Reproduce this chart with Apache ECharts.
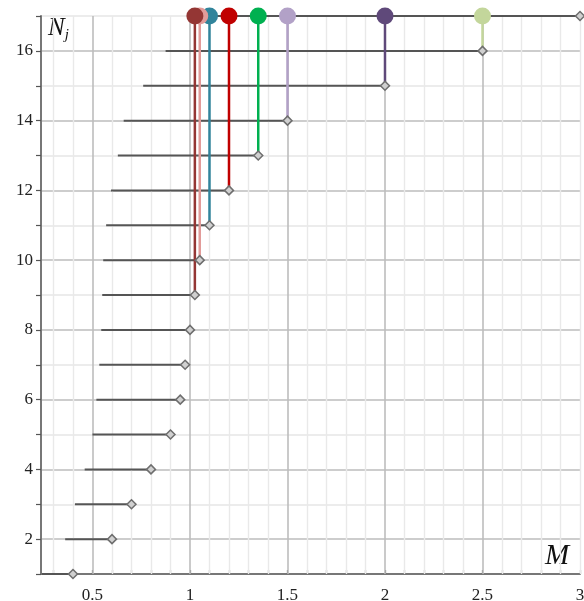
<!DOCTYPE html>
<html>
<head>
<meta charset="utf-8">
<style>
  html, body { margin: 0; padding: 0; background: #fff; }
  #main { width: 584px; height: 601px; }
</style>
<script src="https://cdn.jsdelivr.net/npm/echarts@6/dist/echarts.min.js"></script>
</head>
<body>
<div id="main"></div>
<script>
// levels N_j and the M range covered at each level
var levels = [1, 2, 3, 4, 5, 6, 7, 8, 9, 10, 11, 12, 13, 14, 15, 16, 17];
var startM = [0.24, 0.36, 0.41, 0.46, 0.5, 0.52, 0.535, 0.545, 0.55, 0.555, 0.57, 0.595, 0.63, 0.66, 0.76, 0.875, 1.0];
var endM = [0.4, 0.6, 0.7, 0.8, 0.9, 0.95, 0.975, 1.0, 1.025, 1.05, 1.1, 1.2, 1.35, 1.5, 2.0, 2.5, 3.0];

// coloured stems from the top level down
var stemM = [1.025, 1.05, 1.1, 1.2, 1.35, 1.5, 2.0, 2.5];
var stemBottom = [9, 10, 11, 12, 13, 14, 15, 16];
var stemTop = 17;
var stemColors = ['#943634', '#E29B99', '#31849B', '#C00000', '#00B050', '#B2A1C7', '#5F497A', '#C3D69B'];

// tick labels / grid positions
var xLabels = [0.5, 1, 1.5, 2, 2.5, 3];
var xMinor = [0.3, 0.4, 0.5, 0.6, 0.7, 0.8, 0.9, 1.0, 1.1, 1.2, 1.3, 1.4, 1.5, 1.6, 1.7, 1.8, 1.9, 2.0,
  2.1, 2.2, 2.3, 2.4, 2.5, 2.6, 2.7, 2.8, 2.9, 3.0];

var chartDom = document.getElementById('main');
var myChart = echarts.init(chartDom);
var option;

var serif = '"Liberation Serif", "DejaVu Serif", serif';

var segData = [];
var endData = [];
for (var i = 0; i < levels.length; i++) {
  segData.push([startM[i], levels[i]]);
  segData.push([endM[i], levels[i]]);
  segData.push([null, null]);
  endData.push([endM[i], levels[i]]);
}

var gridLines = xMinor.map(function (v) {
  var major = xLabels.indexOf(v) >= 0 && v < 3;
  return {
    xAxis: v,
    lineStyle: { color: major ? '#bdbdbd' : '#e9e9e9', width: major ? 1.6 : 1.4, type: 'solid' }
  };
});

var series = [
  {
    type: 'line',
    z: 1,
    data: [],
    silent: true,
    markLine: {
      z: 1,
      silent: true,
      symbol: 'none',
      label: { show: false },
      animation: false,
      data: gridLines
    }
  },
  {
    type: 'line',
    z: 3,
    data: segData,
    showSymbol: false,
    connectNulls: false,
    lineStyle: { color: '#555', width: 2 },
    clip: false,
    silent: true
  }
];

stemM.forEach(function (m, k) {
  series.push({
    type: 'line',
    z: 5,
    data: [[m, stemBottom[k]], [m, stemTop]],
    lineStyle: { color: stemColors[k], width: 2.5 },
    showSymbol: false,
    clip: false,
    silent: true
  });
});

series.push({
  type: 'scatter',
  z: 6,
  data: endData,
  symbol: 'diamond',
  symbolSize: [9, 9],
  itemStyle: { color: '#d0d0d0', borderColor: '#6e6e6e', borderWidth: 1.5, opacity: 1 },
  clip: false,
  silent: true
});

// leftmost circle ends up on top
var topData = [];
for (var k = stemM.length - 1; k >= 0; k--) {
  topData.push({ value: [stemM[k], stemTop], itemStyle: { color: stemColors[k] } });
}
series.push({
  type: 'scatter',
  z: 7,
  data: topData,
  symbol: 'circle',
  symbolSize: 17,
  itemStyle: { opacity: 1 },
  clip: false,
  silent: true
});

option = {
  animation: false,
  backgroundColor: '#fff',
  grid: { left: 41, right: 4, top: 16, bottom: 27, outerBoundsMode: 'none' },
  xAxis: {
    type: 'value',
    min: 0.236,
    max: 3,
    axisLine: { lineStyle: { color: '#777', width: 2 } },
    axisTick: {
      show: true,
      customValues: xMinor,
      inside: true,
      length: 4,
      lineStyle: { color: '#555', width: 1.2 }
    },
    axisLabel: {
      customValues: xLabels,
      margin: 13,
      color: '#222',
      fontFamily: serif,
      fontSize: 17
    },
    splitLine: { show: false }
  },
  yAxis: {
    type: 'value',
    min: 1,
    max: 17,
    interval: 1,
    axisLine: { show: true, lineStyle: { color: '#777', width: 2 } },
    axisTick: { show: true, length: 5, lineStyle: { color: '#555', width: 1.2 } },
    axisLabel: {
      margin: 8,
      color: '#222',
      fontFamily: serif,
      fontSize: 17,
      formatter: function (v) { return v % 2 === 0 && v < 17 ? String(v) : ''; }
    },
    splitLine: {
      show: true,
      lineStyle: { color: ['#e6e6e6', '#bdbdbd'], width: 1.6 }
    }
  },
  graphic: [
    {
      type: 'text',
      left: 48,
      top: 16,
      style: {
        text: '{a|N}{b|j}',
        rich: {
          a: { fontFamily: serif, fontStyle: 'italic', fontSize: 25, fill: '#111' },
          b: { fontFamily: serif, fontStyle: 'italic', fontSize: 15, fill: '#111', padding: [13, 0, 0, 0] }
        }
      }
    },
    {
      type: 'text',
      left: 545,
      top: 542,
      style: {
        text: 'M',
        fontFamily: serif,
        fontStyle: 'italic',
        fontSize: 29,
        fill: '#111'
      }
    }
  ],
  series: series
};

option && myChart.setOption(option);
</script>
</body>
</html>
